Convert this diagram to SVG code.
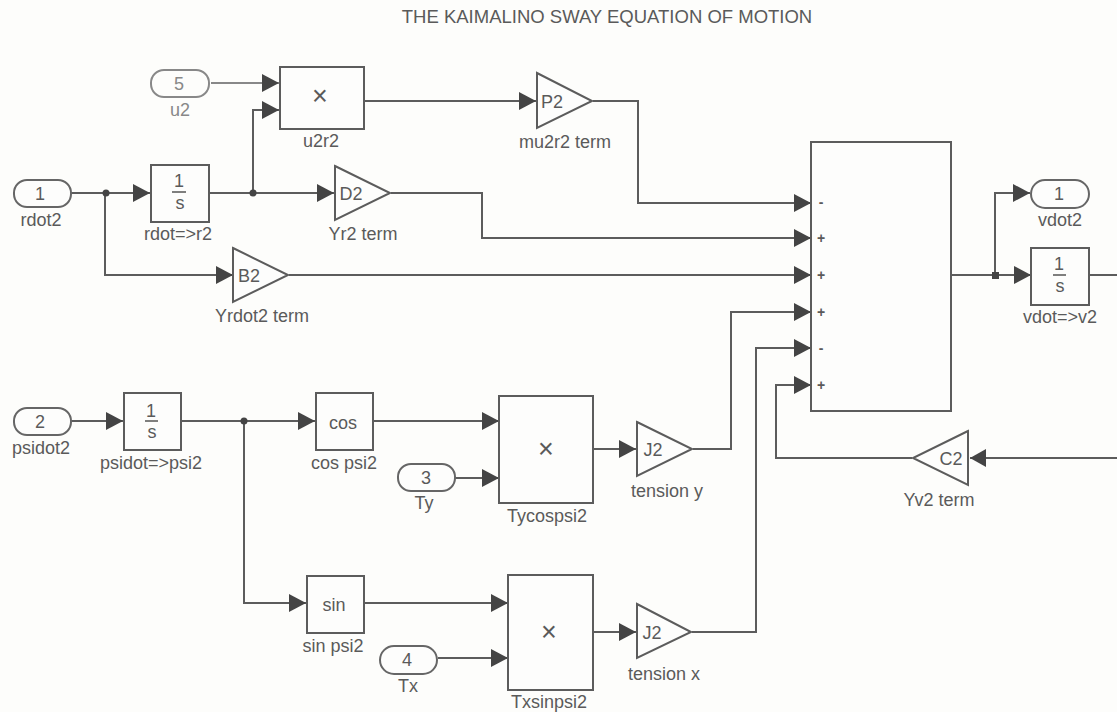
<svg xmlns="http://www.w3.org/2000/svg" width="1117" height="712" viewBox="0 0 1117 712">
<style>
text{font-family:"Liberation Sans",Arial,sans-serif;font-size:18px;fill:#5a5a5a;text-anchor:middle}
.b{fill:#fdfdfc;stroke:#5c5c5c;stroke-width:2}
.w{fill:none;stroke:#5c5c5c;stroke-width:2}
.a{fill:#444}
.d{fill:#444}
.g{fill:#fdfdfc;stroke:#666;stroke-width:2}
.l{fill:none;stroke:#888;stroke-width:2}
.s{font-size:14px;font-weight:bold}
.x{font-size:27px}
.bar{stroke:#555;stroke-width:1.5}
</style>
<defs>
<path id="h" class="a" d="M-17,-9L0,0L-17,9Z"/>
</defs>
<rect width="1117" height="712" fill="#fdfdfb"/>
<text x="607" y="23" style="font-size:18.5px">THE KAIMALINO SWAY EQUATION OF MOTION</text>
<g id="connectors">
<path class="w" d="M211,83H279" style="stroke:#888"/>
<path class="w" d="M71,193H150M105,193V275H233M208,193H334M253,193V110H279M365,101H536M593,101H638V203H811M391,193H482V238H811M289,275H811"/>
<path class="w" d="M71,421H123M181,421H315M244,421V603H306M373,421H499M455,478H499M593,449H636M693,449H731V312H811M365,603H508M438,658H508M593,632H636M692,632H756V348H811M1117,458H970M912,458H776V385H811"/>
<path class="w" d="M950,275H1031M995,275V193H1030M1089,275H1117"/>
<use href="#h" x="279" y="83" style="fill:#888"/><use href="#h" x="279" y="110"/><use href="#h" x="150" y="193"/><use href="#h" x="334" y="193"/><use href="#h" x="233" y="275"/><use href="#h" x="536" y="101"/>
<use href="#h" x="811" y="203"/><use href="#h" x="811" y="238"/><use href="#h" x="811" y="275"/><use href="#h" x="811" y="312"/><use href="#h" x="811" y="348"/><use href="#h" x="811" y="385"/>
<use href="#h" x="1030" y="193"/><use href="#h" x="1031" y="275"/>
<use href="#h" x="123" y="421"/><use href="#h" x="315" y="421"/><use href="#h" x="306" y="603"/><use href="#h" x="499" y="421"/><use href="#h" x="499" y="478"/><use href="#h" x="636" y="449"/><use href="#h" x="508" y="603"/><use href="#h" x="508" y="658"/><use href="#h" x="636" y="632"/>
<path class="a" d="M970,449L986,458L970,467Z" transform="rotate(180 978 458)"/>
<circle class="d" cx="106" cy="193" r="3.5"/><circle class="d" cx="253" cy="193" r="3.5"/><circle class="d" cx="244" cy="421" r="3.5"/><rect class="d" x="992" y="272" width="7" height="7"/>
</g>
<g id="in5"><rect x="151" y="70" width="58" height="27" rx="13" class="l"/><text x="179" y="90" style="fill:#888">5</text><text x="180" y="116" style="fill:#888">u2</text></g>
<g id="u2r2"><rect class="b" x="280" y="67" width="84" height="62"/><text class="x" x="320" y="105">×</text><text x="321" y="147">u2r2</text></g>
<g id="in1"><rect x="14" y="180" width="57" height="27" rx="13" class="g"/><text x="40" y="200">1</text><text x="41" y="226">rdot2</text></g>
<g id="rint"><rect class="b" x="151" y="165" width="58" height="57"/><text x="179" y="187">1</text><path class="bar" d="M172,192H186"/><text x="180" y="209">s</text><text x="178" y="240">rdot=&gt;r2</text></g>
<g id="d2"><path class="b" d="M335,166L390,193L335,220Z"/><text x="351" y="200">D2</text><text x="363" y="240">Yr2 term</text></g>
<g id="b2"><path class="b" d="M233,248L288,275L233,302Z"/><text x="249" y="282">B2</text><text x="262" y="322">Yrdot2 term</text></g>
<g id="p2"><path class="b" d="M537,73L592,101L537,128Z"/><text x="552" y="108">P2</text><text x="565" y="148">mu2r2 term</text></g>
<g id="sum"><rect class="b" x="811" y="142" width="140" height="269"/>
<text class="s" x="821" y="207">-</text><text class="s" x="821" y="243">+</text><text class="s" x="821" y="280">+</text><text class="s" x="821" y="317">+</text><text class="s" x="821" y="353">-</text><text class="s" x="821" y="390">+</text></g>
<g id="out1"><rect x="1031" y="180" width="58" height="28" rx="14" class="g"/><text x="1059" y="200">1</text><text x="1060" y="226">vdot2</text></g>
<g id="vint"><rect class="b" x="1031" y="248" width="58" height="57"/><text x="1059" y="270">1</text><path class="bar" d="M1053,275H1066"/><text x="1060" y="292">s</text><text x="1060" y="323">vdot=&gt;v2</text></g>
<g id="in2"><rect x="14" y="408" width="57" height="27" rx="13" class="g"/><text x="40" y="428">2</text><text x="41" y="454">psidot2</text></g>
<g id="pint"><rect class="b" x="124" y="393" width="57" height="57"/><text x="151" y="417">1</text><path class="bar" d="M145,421H158"/><text x="152" y="438">s</text><text x="151" y="469">psidot=&gt;psi2</text></g>
<g id="cos"><rect class="b" x="316" y="393" width="57" height="57"/><text x="343" y="429">cos</text><text x="344" y="469">cos psi2</text></g>
<g id="sin"><rect class="b" x="307" y="576" width="57" height="57"/><text x="334" y="611">sin</text><text x="333" y="652">sin psi2</text></g>
<g id="tcos"><rect class="b" x="499" y="396" width="94" height="107"/><text class="x" x="546" y="458">×</text><text x="547" y="522">Tycospsi2</text></g>
<g id="tsin"><rect class="b" x="508" y="575" width="85" height="115"/><text class="x" x="549" y="641">×</text><text x="549" y="708">Txsinpsi2</text></g>
<g id="in3"><rect x="398" y="464" width="57" height="27" rx="13" class="g"/><text x="426" y="484">3</text><text x="424" y="509">Ty</text></g>
<g id="in4"><rect x="380" y="646" width="57" height="28" rx="14" class="g"/><text x="407" y="666">4</text><text x="408" y="692">Tx</text></g>
<g id="j1"><path class="b" d="M637,422L692,449L637,476Z"/><text x="653" y="456">J2</text><text x="667" y="497">tension y</text></g>
<g id="j2"><path class="b" d="M637,604L691,632L637,658Z"/><text x="652" y="639">J2</text><text x="664" y="680">tension x</text></g>
<g id="c2"><path class="b" d="M968,431L913,458L968,485Z"/><text x="951" y="465">C2</text><text x="939" y="506">Yv2 term</text></g>
</svg>
